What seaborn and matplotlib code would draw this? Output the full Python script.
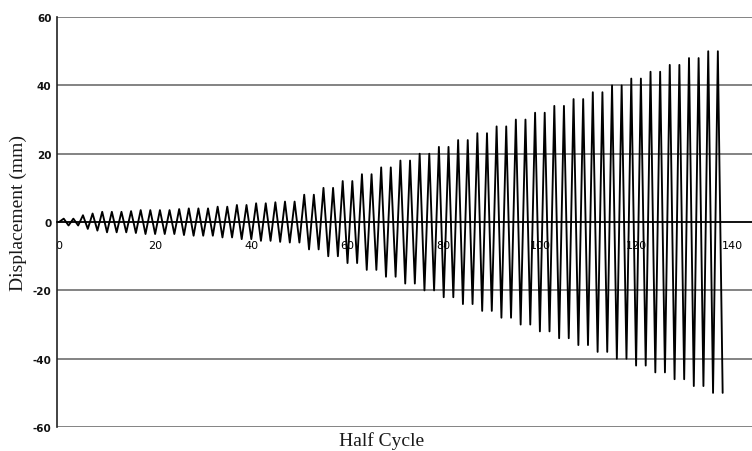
import numpy as np
import pandas as pd
import matplotlib
matplotlib.use("Agg")
import matplotlib.pyplot as plt
import seaborn as sns

#%% DATA
# amplitude (mm) of each full cycle, cycle 1..69 -> half cycles 2c-1 (+) and 2c (-)
early_amp = [1, 1, 2, 2.5, 3, 3, 3, 3.2, 3.5, 3.5, 3.5, 3.5,
             3.8, 4, 4, 4, 4.5, 4.5, 5, 5, 5.5, 5.5, 5.8]
late_amp = [6, 6, 8, 8, 10, 10, 12, 12, 14, 14, 16, 16, 18, 18, 20, 20,
            22, 22, 24, 24, 26, 26, 28, 28, 30, 30, 32, 32, 34, 34, 36, 36,
            38, 38, 40, 40, 42, 42, 44, 44, 46, 46, 48, 48, 50, 50]
cycle_amp = early_amp + late_amp

xticks = [0, 20, 40, 60, 80, 100, 120, 140]
yticks = [-60, -40, -20, 0, 20, 40, 60]

# build the half cycle table
half = [0]
disp = [0.0]
for c, a in enumerate(cycle_amp, start=1):
    half += [2 * c - 1, 2 * c]
    disp += [a, -a]
df = pd.DataFrame({"Half Cycle": half, "Displacement": disp})

#%% PLOT
sns.set_theme(style="white")
plt.rcParams["axes.unicode_minus"] = False
fig = plt.figure(figsize=(7.52, 4.52), dpi=100)
ax = fig.add_axes([0.0758, 0.053, 0.9242, 0.907])

ax.yaxis.grid(True, color="#6e6e6e", lw=1.2)
ax.set_axisbelow(True)

sns.lineplot(data=df, x="Half Cycle", y="Displacement", color="black",
             lw=1.35, estimator=None, sort=False, ax=ax)

ax.set_xlim(-0.4, 144.1)
ax.set_ylim(-60, 60)
ax.set_xticks(xticks)
ax.set_yticks(yticks)

ax.spines["top"].set_visible(False)
ax.spines["right"].set_visible(False)
ax.spines["bottom"].set_position(("data", 0))
ax.spines["bottom"].set_color("black")
ax.spines["bottom"].set_linewidth(1.2)
ax.spines["left"].set_color("#222222")
ax.spines["left"].set_linewidth(1.2)

ax.tick_params(axis="x", direction="out", length=4, width=1, color="#555555",
               pad=9, labelsize=8, labelcolor="black")
ax.tick_params(axis="y", direction="out", length=2, width=1, color="#555555",
               pad=2, labelsize=7.5, labelcolor="#111111")
for t in ax.get_yticklabels():
    t.set_fontweight("bold")

ax.set_xlabel("")
ax.set_ylabel("")
fig.text(0.024, 0.528, "Displacement (mm)", rotation=90, ha="center", va="center",
         fontsize=14, family="Liberation Serif", color="#1a1a1a")
fig.text(0.507, 0.025, "Half Cycle", ha="center", va="center",
         fontsize=14, family="Liberation Serif", color="#1a1a1a")

plt.savefig("out.png", dpi=100)
